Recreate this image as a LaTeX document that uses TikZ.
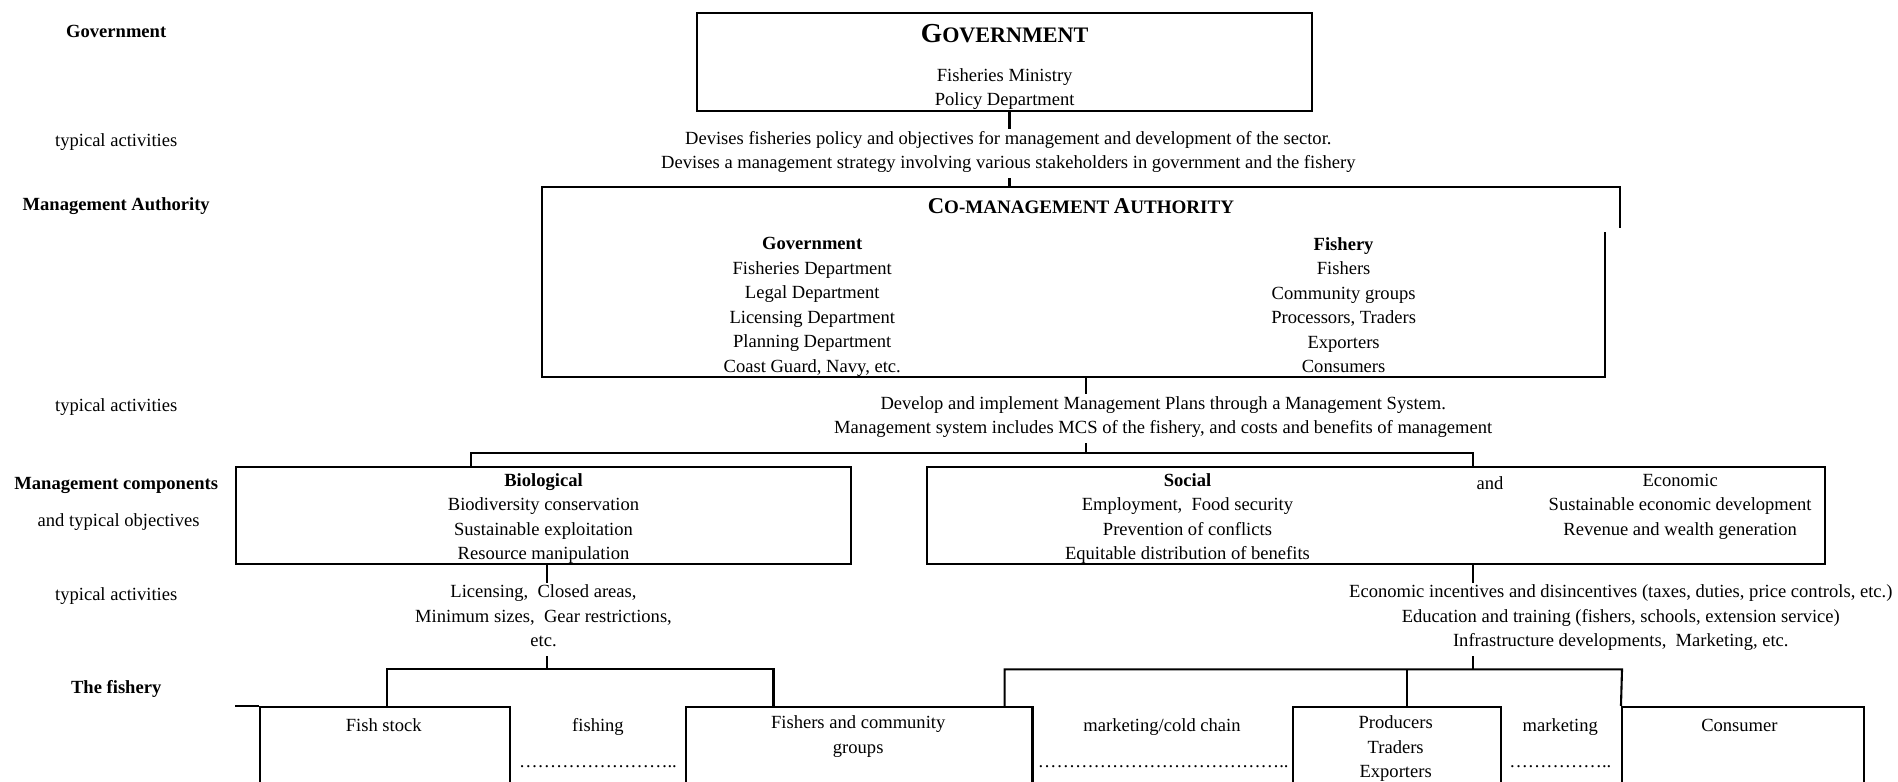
\documentclass[tikz,border=0pt]{standalone}
\usepackage{fontspec}
\setmainfont{Liberation Serif}
\usetikzlibrary{fit}
\tikzset{
  labtext/.style={align=center, inner xsep=2pt, inner ysep=1pt, yshift=-2.2pt, font=\fontsize{11.5}{15.2}\selectfont,
    execute at begin node=\strut, execute at end node=\strut},
  labbold/.style={labtext, font=\fontsize{11.5}{15.2}\selectfont\bfseries},
  titletext/.style={inner sep=2pt, font=\bfseries},
  orgbox/.style={draw, line width=1.3pt, inner sep=0pt},
  openbox/.style={inner sep=0pt},
  conn/.style={line width=1.3pt},
  dotrow/.style={inner sep=0pt, font=\fontsize{11.5}{15.2}\selectfont}
}

\begin{document}
\begin{tikzpicture}[x=0.75pt, y=-0.75pt]
\clip (0,0) rectangle (1568,646);
\fill[white] (0,0) rectangle (1568,646);
% level labels
\node[labbold] (lgov) at (96,24) {Government};
\node[labtext] (lact1) at (96,114) {typical activities};
\node[labbold] (lauth) at (96,167) {Management Authority};
\node[labtext] (lact2) at (96,333) {typical activities};
\node[labbold] (lcomp) at (96,397) {Management components};
\node[labtext] (lobj) at (98,428) {and typical objectives};
\node[labtext] (lact3) at (96,489) {typical activities};
\node[labbold] (lfish) at (96,566) {The fishery};

% government
\node[orgbox, fit={(576,11) (1084,92)}] (gov) {};
\node[titletext] (govtitle) at (830,28) {\fontsize{17}{17}\selectfont G\fontsize{13.7}{17}\selectfont OVERNMENT};
\node[labtext] (govdept) at (830,72) {Fisheries Ministry\\Policy Department};
\node[labtext] (govact) at (833,124) {Devises fisheries policy and objectives for management and development of the sector.\\Devises a management strategy involving various stakeholders in government and the fishery};

% co-management authority
\node[openbox, fit={(448,155) (1338,311)}] (cma) {};
\draw[line width=1.3pt] (1326,192) |- (cma.south west) -- (cma.north west) -- (cma.north east) -- ++(0,34);
\node[titletext] (cmatitle) at (893,170) {\fontsize{14}{14}\selectfont C\fontsize{11.8}{14}\selectfont O-MANAGEMENT \fontsize{14}{14}\selectfont A\fontsize{11.8}{14}\selectfont UTHORITY};
\node[labtext] (cmagov) at (671,252) {\textbf{Government}\\Fisheries Department\\Legal Department\\Licensing Department\\Planning Department\\Coast Guard, Navy, etc.};
\node[labtext] (cmafish) at (1110,252) {\textbf{Fishery}\\Fishers\\Community groups\\Processors, Traders\\Exporters\\Consumers};
\node[labtext] (authact) at (961,343) {Develop and implement Management Plans through a Management System.\\Management system includes MCS of the fishery, and costs and benefits of management};

% management components
\node[orgbox, fit={(195,386) (703,466)}] (bio) {};
\node[orgbox, fit={(766,386) (1508,466)}] (soc) {};
\node[labtext] (biotext) at (449,427) {\textbf{Biological}\\Biodiversity conservation\\Sustainable exploitation\\Resource manipulation};
\node[labtext] (soctext) at (981,427) {\textbf{Social}\\Employment,\ \ Food security\\Prevention of conflicts\\Equitable distribution of benefits};
\node[labtext] (andtext) at (1231,397) {and};
\node[labtext] (ecotext) at (1388,417) {Economic\\Sustainable economic development\\Revenue and wealth generation};
\node[labtext] (bioact) at (449,509) {Licensing,\ \ Closed areas,\\Minimum sizes,\ \ Gear restrictions,\\etc.};
\node[labtext] (socact) at (1339,509) {Economic incentives and disincentives (taxes, duties, price controls, etc.)\\Education and training (fishers, schools, extension service)\\Infrastructure developments,\ \ Marketing, etc.};

% the fishery
\node[orgbox, fit={(215,584) (421,680)}] (stock) {};
\node[orgbox, fit={(567,584) (853,680)}] (fishers) {};
\node[orgbox, fit={(1068,584) (1240,680)}] (traders) {};
\node[orgbox, fit={(1340,584) (1540,680)}] (consumer) {};
\draw[line width=1.3pt] (stock.north west) -- ++(-20,0);
\node[labtext] (stocktext) at (317,597) {Fish stock};
\node[labtext] (fishing) at (494,597) {fishing};
\node[dotrow] (dots1) at (494,633) {……………………..};
\node[labtext] (fisherstext) at (709,607) {Fishers and community\\groups};
\node[labtext] (coldchain) at (960,597) {marketing/cold chain};
\node[dotrow] (dots2) at (961,633) {…………………………………..};
\node[labtext] (traderstext) at (1153,617) {Producers\\Traders\\Exporters};
\node[labtext] (marketing) at (1289,597) {marketing};
\node[dotrow] (dots3) at (1289,633) {……………..};
\node[labtext] (consumertext) at (1437,597) {Consumer};

% connectors
\coordinate (jgov) at (834,155);
\coordinate (jauth) at (897,374);
\coordinate (jbio) at (389,374);
\coordinate (jsoc) at (1217,374);
\coordinate (jlow) at (452,553);
\coordinate (jhigh) at (1217,553);
\coordinate (bl1) at (320,553);
\coordinate (bl2) at (639,553);
\coordinate (br1) at (830,553);
\coordinate (br2) at (1162,553);
\coordinate (br3) at (1340,553);
\draw[conn] (jgov |- gov.south) -- (jgov |- govact.north);
\draw[conn] (jgov |- govact.south) -- (jgov);
\draw[conn] (jauth |- cma.south) -- (jauth |- authact.north);
\draw[conn] (jauth |- authact.south) -- (jauth);
\draw[conn] (bio.north -| jbio) -- (jbio) -- (jsoc) -- (soc.north -| jsoc);
\draw[conn] (jlow |- bio.south) -- (jlow |- bioact.north);
\draw[conn] (jlow |- bioact.south) -- (jlow);
\draw[conn] (stock.north -| bl1) -- (bl1) -- (bl2) -- (fishers.north -| bl2);
\draw[conn] (jsoc |- soc.south) -- (jsoc |- socact.north);
\draw[conn] (jsoc |- socact.south) -- (jhigh);
\draw[conn] (fishers.north -| br1) -- (br1) -- (br3) -- (consumer.north west);
\draw[conn] (br2) -- (traders.north -| br2);
\end{tikzpicture}
\end{document}
